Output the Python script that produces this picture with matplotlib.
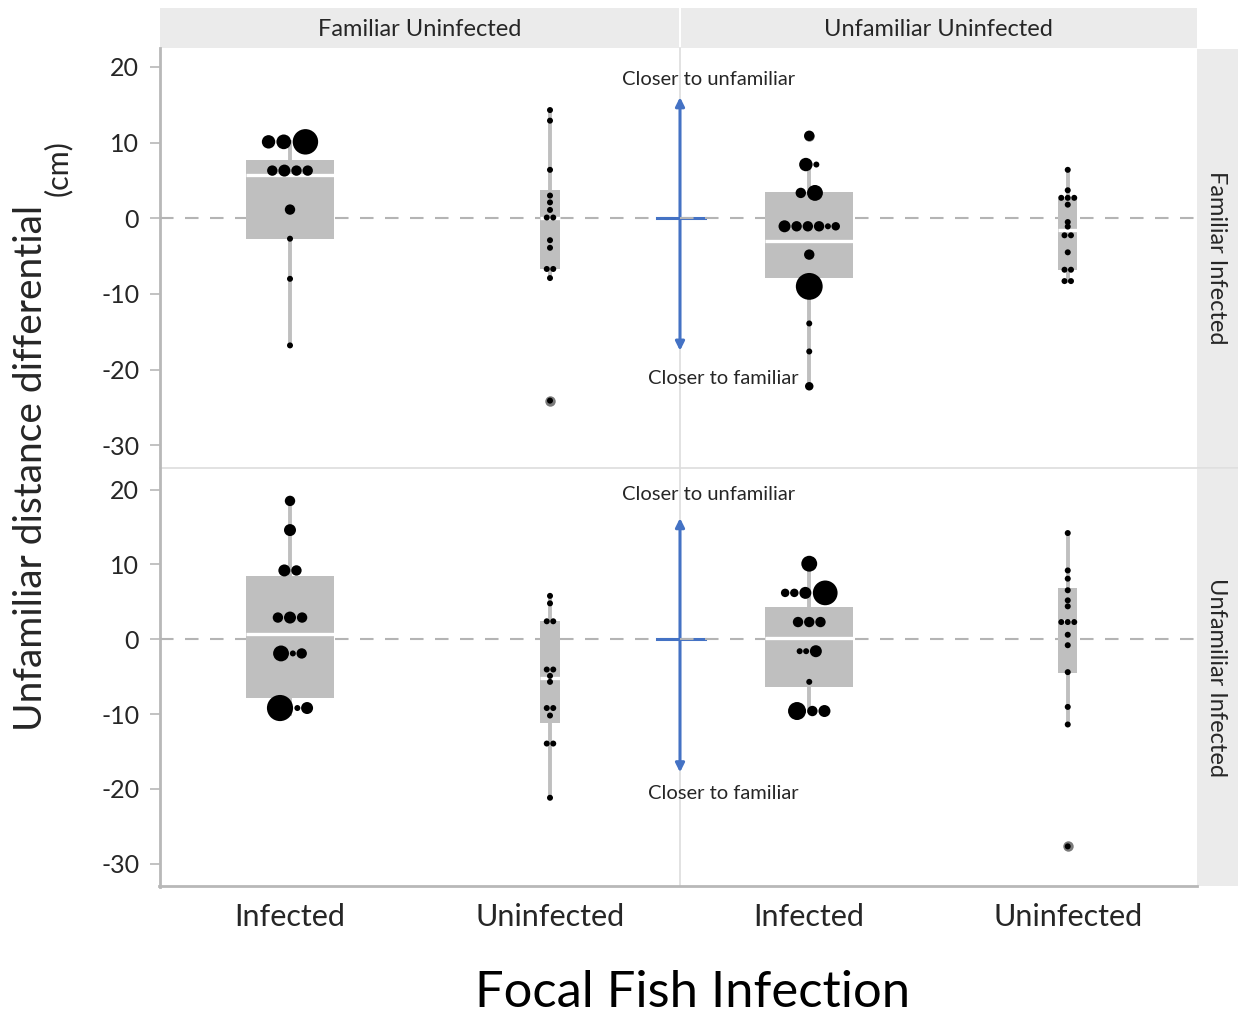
import numpy as np
import matplotlib
matplotlib.use("Agg")
import matplotlib.pyplot as plt
from matplotlib.lines import Line2D
from matplotlib.patches import Rectangle

plt.rcParams["font.family"] = ["Lato", "DejaVu Sans"]
plt.rcParams["axes.unicode_minus"] = False

row_labels = ["Familiar Infected", "Unfamiliar Infected"]
col_labels = ["Familiar Uninfected", "Unfamiliar Uninfected"]
focal = ["Infected", "Uninfected"]

# distance differential (cm) per trial; *_n is the count that sets dot size
fi_fu_inf = [10.1, 10.1, 10.1, 6.3, 6.3, 6.3, 6.3, 1.15, -2.7, -8.0, -16.8]
fi_fu_inf_n = [5, 6, 18, 3, 4, 3, 3, 3, 1, 1, 1]
fi_fu_uninf = [14.3, 12.9, 6.4, 3.0, 2.1, 1.1, 0.1, 0.1, -2.9, -3.9, -6.7, -6.7, -7.9, -24.1]
fi_fu_uninf_n = [1] * 14

fi_uu_inf = [10.9, 7.1, 7.1, 3.35, 3.35, -1.06, -1.06, -1.06, -1.06, -1.06, -1.06,
             -4.8, -9.0, -13.9, -17.6, -22.2]
fi_uu_inf_n = [3, 5, 1, 3, 7, 4, 3, 3, 3, 1, 2, 3, 20, 1, 1, 2]
fi_uu_uninf = [6.4, 3.7, 2.7, 2.7, 2.7, 1.8, -0.5, -1.1, -2.25, -2.25, -4.5, -6.8, -6.8,
               -8.3, -8.3]
fi_uu_uninf_n = [1] * 15

ui_fu_inf = [18.5, 14.6, 9.2, 9.2, 2.9, 2.9, 2.9, -1.9, -1.9, -1.9, -9.2, -9.2, -9.2]
ui_fu_inf_n = [3, 4, 4, 3, 3, 4, 3, 7, 1, 3, 19, 1, 4]
ui_fu_uninf = [5.8, 4.8, 2.4, 2.4, -4.05, -4.05, -4.9, -5.7, -9.2, -9.2, -10.2,
               -13.95, -13.95, -21.2]
ui_fu_uninf_n = [1] * 14

ui_uu_inf = [10.1, 6.2, 6.2, 6.2, 6.2, 2.3, 2.3, 2.3, -1.6, -1.6, -1.6, -5.7,
             -9.6, -9.6, -9.6]
ui_uu_inf_n = [7, 2, 2, 4, 17, 3, 3, 3, 1, 1, 4, 1, 9, 3, 4]
ui_uu_uninf = [14.2, 9.2, 8.1, 6.55, 5.2, 4.4, 2.3, 2.3, 2.3, 0.6, -0.8, -4.4,
               -9.05, -11.4, -27.7]
ui_uu_uninf_n = [1] * 15

# box summaries: whisker low, q1, median, q3, whisker high
fi_fu_box = [[-16.8, -2.7, 5.7, 7.7, 10.1], [-7.9, -6.75, 0.1, 3.7, 14.3]]
fi_uu_box = [[-22.2, -7.9, -3.0, 3.5, 7.1], [-8.3, -6.9, -1.6, 2.6, 6.4]]
ui_fu_box = [[-10.0, -7.8, 0.67, 8.5, 18.5], [-21.2, -11.2, -5.2, 2.45, 5.8]]
ui_uu_box = [[-9.6, -6.4, 0.1, 4.3, 10.1], [-11.4, -4.45, 2.5, 6.8, 14.2]]
fi_fu_out = [[], [-24.1]]
fi_uu_out = [[10.9], []]
ui_fu_out = [[], []]
ui_uu_out = [[], [-27.7]]

panels = {
    (0, 0): ([(fi_fu_inf, fi_fu_inf_n), (fi_fu_uninf, fi_fu_uninf_n)], fi_fu_box, fi_fu_out),
    (0, 1): ([(fi_uu_inf, fi_uu_inf_n), (fi_uu_uninf, fi_uu_uninf_n)], fi_uu_box, fi_uu_out),
    (1, 0): ([(ui_fu_inf, ui_fu_inf_n), (ui_fu_uninf, ui_fu_uninf_n)], ui_fu_box, ui_fu_out),
    (1, 1): ([(ui_uu_inf, ui_uu_inf_n), (ui_uu_uninf, ui_uu_uninf_n)], ui_uu_box, ui_uu_out),
}

W, H = 1238, 1017
BOX_GRAY = "#bfbfbf"
BLUE = "#4472c4"
TEXT = "#262626"
box_widths = [0.34, 0.075]
row_ylims = [(-33, 22.5), (-33, 22.9)]
col_x = [(160, 680), (680, 1197)]
row_y = [(48, 468), (468, 886)]


def px_rect(x0, y0, x1, y1):
    return [x0 / W, 1 - y1 / H, (x1 - x0) / W, (y1 - y0) / H]


def dot_offsets(values, diam, px_per_unit, spread=1.08):
    # dots sharing a value sit side by side in a row centred on the category
    xs = np.zeros(len(values))
    i = 0
    while i < len(values):
        j = i
        while j + 1 < len(values) and values[j + 1] == values[i]:
            j += 1
        d = diam[i:j + 1]
        pos = [0.0]
        for k in range(1, len(d)):
            pos.append(pos[-1] + 0.5 * spread * (d[k - 1] + d[k]))
        pos = np.array(pos)
        pos -= ((pos[0] - d[0] / 2) + (pos[-1] + d[-1] / 2)) / 2
        xs[i:j + 1] = pos / px_per_unit
        i = j + 1
    return xs


fig = plt.figure(figsize=(W / 100, H / 100), dpi=100)

# frame lines and strips
fig.add_artist(Line2D([680 / W, 680 / W], [1 - 48 / H, 1 - 886 / H], color="#dddddd",
                      lw=1.2, zorder=-1))
fig.add_artist(Line2D([160 / W, 1238 / W], [1 - 468 / H, 1 - 468 / H], color="#dddddd",
                      lw=1.2, zorder=-1))
fig.add_artist(Line2D([160 / W, 160 / W], [1 - 48 / H, 1 - 887 / H], color="#b8b8b8",
                      lw=2, zorder=-1))
fig.add_artist(Line2D([159 / W, 1197 / W], [1 - 886 / H, 1 - 886 / H], color="#b8b8b8",
                      lw=2, zorder=-1))
for c, (x0, x1) in enumerate(col_x):
    fig.add_artist(Rectangle((x0 / W + (1 / W if c else 0), 1 - 48 / H),
                             (x1 - x0 - 1) / W, 40 / H, transform=fig.transFigure,
                             facecolor="#ebebeb", edgecolor="none", zorder=-2))
    fig.text((x0 + x1) / 2 / W, 1 - 29 / H, col_labels[c], ha="center", va="center",
             fontsize=17, color=TEXT)
for r, (y0, y1) in enumerate(row_y):
    fig.add_artist(Rectangle((1197 / W, 1 - y1 / H), 41 / W, (y1 - y0 - 1) / H,
                             transform=fig.transFigure, facecolor="#ebebeb",
                             edgecolor="none", zorder=-2))
    fig.text(1216 / W, 1 - (y0 + y1) / 2 / H, row_labels[r], ha="center", va="center",
             rotation=270, fontsize=17, color=TEXT)

for (r, c), (groups, boxes, outs) in panels.items():
    x0, x1 = col_x[c]
    y0, y1 = row_y[r]
    ax = fig.add_axes(px_rect(x0, y0, x1, y1))
    ax.set_facecolor("none")
    ax.set_xlim(0.5, 2.5)
    ax.set_ylim(*row_ylims[r])
    for s in ax.spines.values():
        s.set_visible(False)

    ax.axhline(0, color="#b4b4b4", lw=1.5, linestyle=(0, (6.5, 5.5)), zorder=1)

    stats = []
    for b, o in zip(boxes, outs):
        stats.append(dict(whislo=b[0], q1=b[1], med=b[2], q3=b[3], whishi=b[4], fliers=o))
    ax.bxp(stats, positions=[1, 2], widths=box_widths, patch_artist=True,
           showcaps=False, manage_ticks=False,
           boxprops=dict(facecolor=BOX_GRAY, edgecolor="none"),
           whiskerprops=dict(color=BOX_GRAY, lw=2.8),
           medianprops=dict(color="white", lw=2.4),
           flierprops=dict(marker="o", markerfacecolor="#7a7a7a", markeredgecolor="none",
                           markersize=7.5))

    px_per_unit = (x1 - x0) / 2.0
    for k, (vals, n) in enumerate(groups):
        diam = 6.0 * np.sqrt(np.array(n, dtype=float))
        xs = k + 1 + dot_offsets(vals, diam, px_per_unit)
        ax.scatter(xs, vals, s=(diam * 0.72) ** 2, color="black", linewidths=0, zorder=4)

    if c == 0:
        ax.set_yticks([-30, -20, -10, 0, 10, 20])
        ax.tick_params(axis="y", length=7, width=1.2, color="#b8b8b8", pad=8,
                       labelsize=18, labelcolor=TEXT)
        # arrow showing the direction of preference, on the column boundary
        top, bot = (16.0, -17.5) if r == 0 else (16.2, -17.8)
        ax.annotate("", xy=(2.5, top), xytext=(2.5, bot), annotation_clip=False,
                    arrowprops=dict(arrowstyle="<|-|>", color=BLUE, lw=2.2,
                                    mutation_scale=13, shrinkA=0, shrinkB=0))
        ax.plot([2.41, 2.596], [0, 0], color=BLUE, lw=2.2, clip_on=False, zorder=5)
        up_y, down_y = (18.3, -21.2) if r == 0 else (19.4, -20.6)
        ax.text(2.61, up_y, "Closer to unfamiliar", ha="center", va="center",
                fontsize=14.5, color=TEXT, clip_on=False)
        ax.text(2.665, down_y, "Closer to familiar", ha="center", va="center",
                fontsize=14.5, color=TEXT, clip_on=False)
    else:
        ax.set_yticks([])

    if r == 1:
        ax.set_xticks([1, 2])
        ax.set_xticklabels(focal)
        ax.tick_params(axis="x", length=0, pad=12, labelsize=22, labelcolor=TEXT)
    else:
        ax.set_xticks([])

fig.text(693 / W, 1 - 993 / H, "Focal Fish Infection", ha="center", va="center",
         fontsize=36.5, color="black")
fig.text(31 / W, 1 - 468 / H, "Unfamiliar distance differential", ha="center",
         va="center", rotation=90, fontsize=28, color=TEXT)
fig.text(58 / W, 1 - 168 / H, "(cm)", ha="center", va="center", rotation=90,
         fontsize=22, color=TEXT)

fig.savefig("out.png", dpi=100, facecolor="white")
